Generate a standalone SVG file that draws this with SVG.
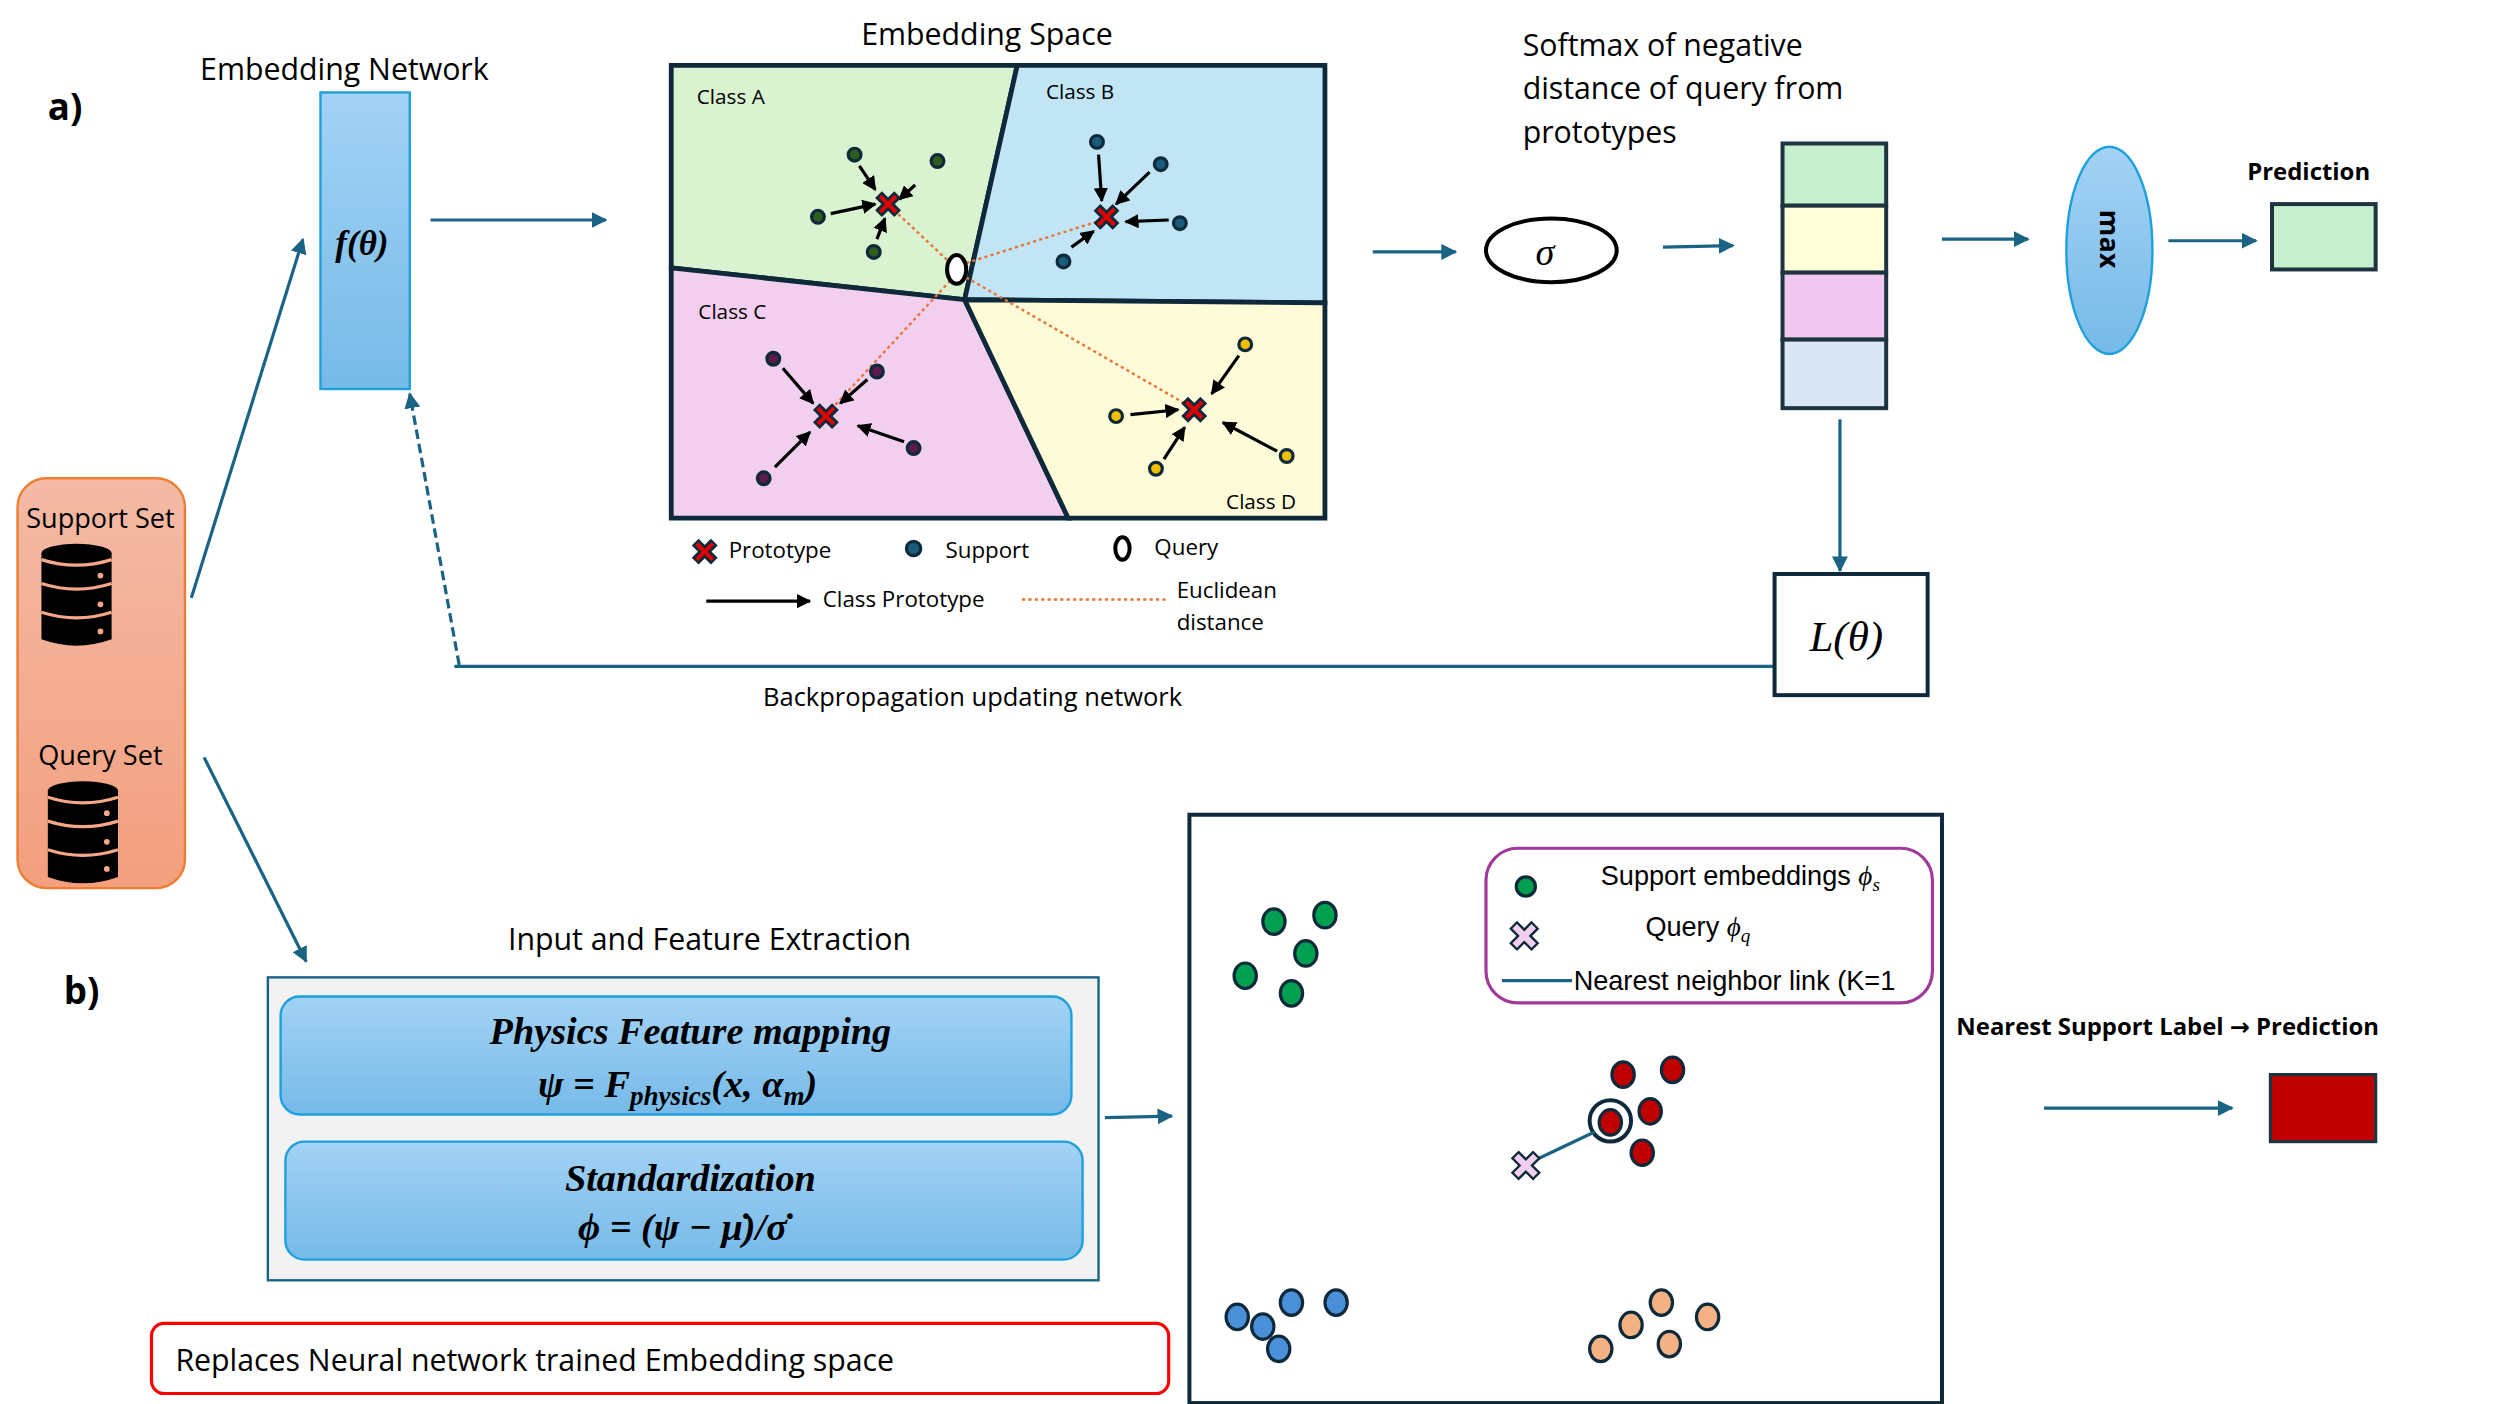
<svg xmlns="http://www.w3.org/2000/svg" width="2500" height="1404" viewBox="0 0 2500 1404">
<defs>
<style>
.t{font-family:"Open Sans","DejaVu Sans",sans-serif;fill:#000}
.m{font-family:"Liberation Serif","DejaVu Serif",serif;font-style:italic;font-weight:bold;fill:#000}
.c{fill:none;stroke:#1a6385;stroke-width:2}
.k{fill:none;stroke:#000;stroke-width:2}
.reg{stroke:#0e2a3a;stroke-width:3;stroke-linejoin:miter}
.dot{stroke:#0e2a3a;stroke-width:2}
.ed{fill:none;stroke:#e8743b;stroke-width:1.5;stroke-dasharray:2 2}
</style>
<marker id="ah" viewBox="0 0 10 10" refX="9" refY="5" markerWidth="5" markerHeight="5" orient="auto"><path d="M0,0L10,5L0,10z" fill="#1a6385"/></marker>
<marker id="ak" viewBox="0 0 10 10" refX="9" refY="5" markerWidth="4.5" markerHeight="4.5" orient="auto"><path d="M0,0L10,5L0,10z" fill="#000"/></marker>
<linearGradient id="gb" x1="0" y1="0" x2="0" y2="1"><stop offset="0" stop-color="#a3d2f5"/><stop offset="1" stop-color="#76bae8"/></linearGradient>
<linearGradient id="go" x1="0" y1="0" x2="0" y2="1"><stop offset="0" stop-color="#f4baa5"/><stop offset="1" stop-color="#f39f7e"/></linearGradient>
<g id="db">
<path d="M-22,0 L-22,54 Q0,62 22,54 L22,0 Z" fill="#000"/>
<ellipse cx="0" cy="0" rx="22" ry="6" fill="#000"/>
<path d="M-22,19 Q0,26 22,19 M-22,37 Q0,44 22,37 M-22,4 Q0,11 22,4" fill="none" stroke="#f4a889" stroke-width="2"/>
<circle cx="15" cy="14" r="1.8" fill="#f4a889"/><circle cx="15" cy="32" r="1.8" fill="#f4a889"/><circle cx="15" cy="49" r="1.8" fill="#f4a889"/>
</g>
<g id="px"><path d="M-6,-6L6,6M6,-6L-6,6" stroke="#0e2a3a" stroke-width="6"/><path d="M-5,-5L5,5M5,-5L-5,5" stroke="#e00000" stroke-width="2.5"/></g>
<g id="qx"><path d="M-7,-7L7,7M7,-7L-7,7" stroke="#0e2a3a" stroke-width="7"/><path d="M-6,-6L6,6M6,-6L-6,6" stroke="#f2cfee" stroke-width="4"/></g>
</defs>
<rect width="2500" height="1404" fill="#fff"/>
<g transform="scale(1.5944)">
<g id="labels">
<text class="t" x="30" y="75" font-size="23" font-weight="bold">a)</text>
<text class="t" x="40" y="630" font-size="23" font-weight="bold">b)</text>
</g>
<g id="embnet">
<text class="t" x="216" y="50" font-size="19" text-anchor="middle">Embedding Network</text>
<rect x="201" y="58" width="56" height="186" fill="url(#gb)" stroke="#1ea0dc" stroke-width="1.5"/>
<text class="m" x="227" y="160" font-size="22" text-anchor="middle">f(θ)</text>
</g>
<g id="sets">
<rect x="11" y="300" width="105" height="257" rx="18" fill="url(#go)" stroke="#ed7d31" stroke-width="1.5"/>
<text class="t" x="63" y="331" font-size="17" text-anchor="middle">Support Set</text>
<use href="#db" x="48" y="347"/>
<text class="t" x="63" y="480" font-size="17" text-anchor="middle">Query Set</text>
<use href="#db" x="52" y="496"/>
</g>
<g id="connectors">
<path class="c" d="M120,375L190,150" marker-end="url(#ah)"/>
<path class="c" d="M128,475L192,603" marker-end="url(#ah)"/>
<path class="c" d="M270,138L380,138" marker-end="url(#ah)"/>
<path class="c" d="M285,418L1112,418"/>
<path class="c" d="M288,417L257,247" stroke-dasharray="6 3" marker-end="url(#ah)"/>
<path class="c" d="M861,158L913,158" marker-end="url(#ah)"/>
<path class="c" d="M1043,155L1087,154" marker-end="url(#ah)"/>
<path class="c" d="M1218,150L1272,150" marker-end="url(#ah)"/>
<path class="c" d="M1360,151L1415,151" marker-end="url(#ah)"/>
<path class="c" d="M1154,263L1154,358" marker-end="url(#ah)"/>
<path class="c" d="M693,701L735,700" marker-end="url(#ah)"/>
<path class="c" d="M1282,695L1400,695" marker-end="url(#ah)"/>
</g>
<text class="t" x="610" y="443" font-size="16" text-anchor="middle">Backpropagation updating network</text>
<g id="embspace">
<text class="t" x="619" y="28" font-size="19" text-anchor="middle">Embedding Space</text>
<polygon class="reg" points="421,41 638,41 605,188 421,168" fill="#d9f2d0"/>
<polygon class="reg" points="638,41 831,41 831,190 605,188" fill="#c1e5f5"/>
<polygon class="reg" points="421,168 605,188 670,325 421,325" fill="#f2cfee"/>
<polygon class="reg" points="605,188 831,190 831,325 670,325" fill="#fefbd8"/>
<text class="t" x="437" y="65" font-size="13">Class A</text>
<text class="t" x="656" y="62" font-size="13">Class B</text>
<text class="t" x="438" y="200" font-size="13">Class C</text>
<text class="t" x="769" y="319" font-size="13">Class D</text>
<path class="ed" d="M594,163L562,133M606,165L688,139M596,176L522,256M606,174L743,253"/>
<g fill="#2e5e1e" class="dot"><circle cx="536" cy="97" r="4"/><circle cx="588" cy="101" r="4"/><circle cx="513" cy="136" r="4"/><circle cx="548" cy="158" r="4"/></g>
<g fill="#1a5a7a" class="dot"><circle cx="688" cy="89" r="4"/><circle cx="728" cy="103" r="4"/><circle cx="740" cy="140" r="4"/><circle cx="667" cy="164" r="4"/></g>
<g fill="#5a1a4a" class="dot"><circle cx="485" cy="225" r="4"/><circle cx="550" cy="233" r="4"/><circle cx="573" cy="281" r="4"/><circle cx="479" cy="300" r="4"/></g>
<g fill="#f0c000" class="dot"><circle cx="781" cy="216" r="4"/><circle cx="700" cy="261" r="4"/><circle cx="807" cy="286" r="4"/><circle cx="725" cy="294" r="4"/></g>
<g class="k" marker-end="url(#ak)">
<path d="M539,104L549,119"/><path d="M574,116L564,125"/><path d="M521,134L549,128"/><path d="M550,150L555,137"/>
<path d="M689,97L691,126"/><path d="M721,108L700,128"/><path d="M733,138L706,139"/><path d="M672,155L686,145"/>
<path d="M491,231L510,253"/><path d="M544,238L527,253"/><path d="M567,277L538,267"/><path d="M486,293L508,271"/>
<path d="M777,223L760,247"/><path d="M709,260L739,257"/><path d="M801,283L767,265"/><path d="M730,288L743,268"/>
</g>
<use href="#px" x="557" y="128"/><use href="#px" x="694" y="136"/><use href="#px" x="518" y="261"/><use href="#px" x="749" y="257"/>
<ellipse cx="600" cy="169" rx="6" ry="9" fill="#fff" stroke="#000" stroke-width="2.5"/>
</g>
<g id="legendA">
<use href="#px" x="442" y="346"/>
<text class="t" x="457" y="350" font-size="14">Prototype</text>
<circle cx="573" cy="344" r="4.5" fill="#1a5a7a" class="dot"/>
<text class="t" x="593" y="350" font-size="14">Support</text>
<ellipse cx="704" cy="344" rx="4.5" ry="7" fill="#fff" stroke="#000" stroke-width="2.5"/>
<text class="t" x="724" y="348" font-size="14">Query</text>
<path class="k" d="M443,377L508,377" marker-end="url(#ak)"/>
<text class="t" x="516" y="381" font-size="14">Class Prototype</text>
<path class="ed" d="M641,376L731,376"/>
<text class="t" x="738" y="375" font-size="14">Euclidean</text>
<text class="t" x="738" y="395" font-size="14">distance</text>
</g>
<g id="softmax">
<text class="t" font-size="19"><tspan x="955" y="35">Softmax of negative</tspan><tspan x="955" y="62">distance of query from</tspan><tspan x="955" y="90">prototypes</tspan></text>
<ellipse cx="973" cy="157" rx="41" ry="20" fill="#fff" stroke="#000" stroke-width="2.5"/>
<text x="969" y="166" font-size="24" font-family="Liberation Serif,serif" font-style="italic" text-anchor="middle">σ</text>
<g stroke="#1e3340" stroke-width="2.5">
<rect x="1118" y="90" width="65" height="39" fill="#c6efce"/>
<rect x="1118" y="129" width="65" height="42" fill="#ffffd9"/>
<rect x="1118" y="171" width="65" height="42" fill="#f0c8ef"/>
<rect x="1118" y="213" width="65" height="43" fill="#d9e7f5"/>
</g>
</g>
<g id="max">
<ellipse cx="1323" cy="157" rx="27" ry="65" fill="url(#gb)" stroke="#1ea0dc" stroke-width="1.5"/>
<text class="t" x="0" y="0" font-size="17" font-weight="bold" text-anchor="middle" transform="translate(1317,150) rotate(90)">max</text>
</g>
<g id="predA">
<text class="t" x="1448" y="113" font-size="15" font-weight="bold" text-anchor="middle">Prediction</text>
<rect x="1425" y="128" width="65" height="41" fill="#c6efce" stroke="#1e3340" stroke-width="2.5"/>
</g>
<g id="loss">
<rect x="1113" y="360" width="96" height="76" fill="#fff" stroke="#0e2a3a" stroke-width="2.5"/>
<text x="1158" y="408" font-size="27" font-family="Liberation Serif,serif" font-style="italic" text-anchor="middle">L(θ)</text>
</g>
<g id="feature">
<text class="t" x="445" y="596" font-size="19" text-anchor="middle">Input and Feature Extraction</text>
<rect x="168" y="613" width="521" height="190" fill="#f2f2f2" stroke="#1a6385" stroke-width="1.5"/>
<rect x="176" y="625" width="496" height="74" rx="12" fill="url(#gb)" stroke="#1ea0dc" stroke-width="1.5"/>
<text class="m" x="433" y="655" font-size="24" text-anchor="middle">Physics Feature mapping</text>
<text class="m" x="425" y="688" font-size="24" text-anchor="middle">ψ = F<tspan font-size="17" dy="5">physics</tspan><tspan dy="-5">(x, α</tspan><tspan font-size="17" dy="5">m</tspan><tspan dy="-5">)</tspan></text>
<rect x="179" y="716" width="500" height="74" rx="12" fill="url(#gb)" stroke="#1ea0dc" stroke-width="1.5"/>
<text class="m" x="433" y="747" font-size="24" text-anchor="middle">Standardization</text>
<text class="m" x="428" y="778" font-size="24" text-anchor="middle">ϕ = (ψ −  μ̇)/σ̇</text>
</g>
<g id="replaces">
<rect x="95" y="830" width="638" height="44" rx="8" fill="#fff" stroke="#ff0000" stroke-width="2"/>
<text class="t" x="110" y="860" font-size="19">Replaces Neural network trained Embedding space</text>
</g>
<g id="knn">
<rect x="746" y="511" width="472" height="369" fill="#fff" stroke="#0e2a3a" stroke-width="2.5"/>
<rect x="932" y="532" width="280" height="97" rx="20" fill="#fff" stroke="#a03a9a" stroke-width="2"/>
<ellipse cx="957" cy="556" rx="6" ry="6" fill="#00a050" class="dot"/>
<text x="1004" y="555" font-size="17" font-family="Liberation Sans Narrow,Liberation Sans,sans-serif">Support embeddings <tspan font-family="Liberation Serif,serif" font-style="italic">ϕ</tspan><tspan font-family="Liberation Serif,serif" font-style="italic" font-size="12" dy="4">s</tspan></text>
<use href="#qx" x="956" y="587"/>
<text x="1032" y="587" font-size="17" font-family="Liberation Sans Narrow,Liberation Sans,sans-serif">Query <tspan font-family="Liberation Serif,serif" font-style="italic">ϕ</tspan><tspan font-family="Liberation Serif,serif" font-style="italic" font-size="12" dy="4">q</tspan></text>
<path d="M942,615L986,615" stroke="#1a6385" stroke-width="2"/>
<text x="987" y="621" font-size="17" font-family="Liberation Sans Narrow,Liberation Sans,sans-serif">Nearest neighbor link (K=1</text>
<g class="dot" fill="#00a050"><ellipse cx="799" cy="578" rx="7" ry="8"/><ellipse cx="831" cy="574" rx="7" ry="8"/><ellipse cx="819" cy="598" rx="7" ry="8"/><ellipse cx="781" cy="612" rx="7" ry="8"/><ellipse cx="810" cy="623" rx="7" ry="8"/></g>
<g class="dot" fill="#c00000"><ellipse cx="1018" cy="674" rx="7" ry="8"/><ellipse cx="1049" cy="671" rx="7" ry="8"/><ellipse cx="1035" cy="697" rx="7" ry="8"/><ellipse cx="1010" cy="704" rx="7" ry="8"/><ellipse cx="1030" cy="723" rx="7" ry="8"/></g>
<circle cx="1010" cy="703" r="13" fill="none" stroke="#0e2a3a" stroke-width="2.5"/>
<path d="M962,728L1000,710" stroke="#1a6385" stroke-width="2"/>
<use href="#qx" x="957" y="731"/>
<g class="dot" fill="#4a90d9"><ellipse cx="776" cy="826" rx="7" ry="8"/><ellipse cx="792" cy="832" rx="7" ry="8"/><ellipse cx="802" cy="846" rx="7" ry="8"/><ellipse cx="810" cy="817" rx="7" ry="8"/><ellipse cx="838" cy="817" rx="7" ry="8"/></g>
<g class="dot" fill="#f4b183"><ellipse cx="1004" cy="846" rx="7" ry="8"/><ellipse cx="1023" cy="831" rx="7" ry="8"/><ellipse cx="1042" cy="817" rx="7" ry="8"/><ellipse cx="1047" cy="843" rx="7" ry="8"/><ellipse cx="1071" cy="826" rx="7" ry="8"/></g>
</g>
<g id="predB">
<text class="t" x="1227" y="649" font-size="15" font-weight="bold">Nearest Support Label → Prediction</text>
<rect x="1424" y="674" width="66" height="42" fill="#c00000" stroke="#1e3340" stroke-width="2"/>
</g>
</g>
</svg>
